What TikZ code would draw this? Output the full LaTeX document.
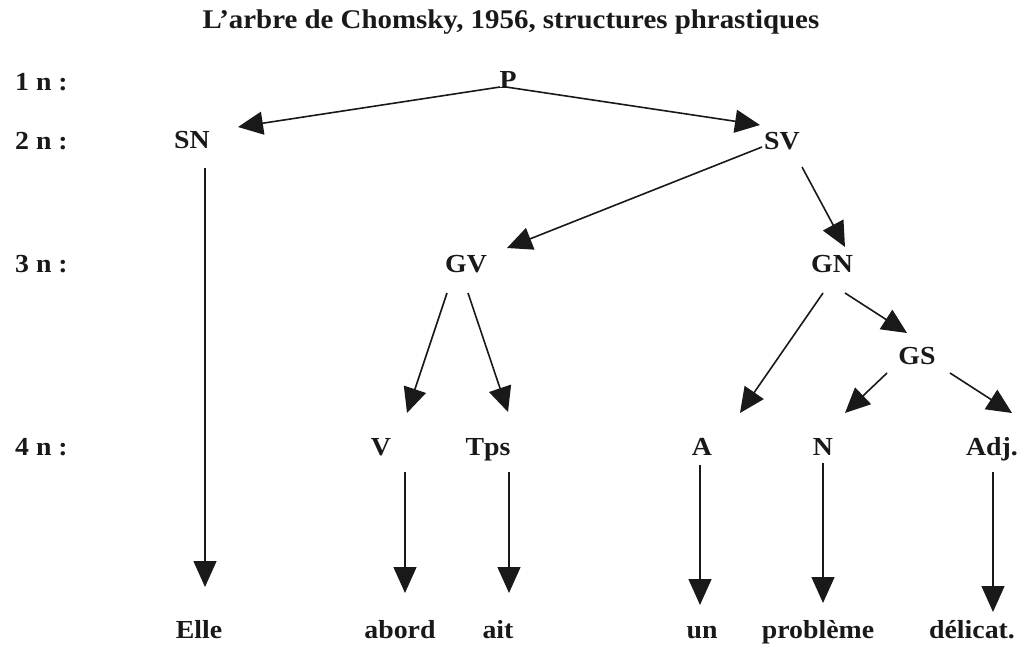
\documentclass[tikz,border=0pt]{standalone}
\usepackage{fontspec}
\setmainfont{Liberation Serif}[FakeStretch=1.07]
\usetikzlibrary{arrows.meta}
\tikzset{
  lab/.style={font=\fontsize{26}{30}\selectfont\bfseries, inner sep=0pt, anchor=base, text=black!90},
  lvl/.style={lab, anchor=base west},
  titlelab/.style={font=\fontsize{27}{32}\selectfont\bfseries, inner sep=0pt, anchor=base, text=black!90},
  arr/.style={line width=1.6pt, draw=black!90, -{Triangle[length=25pt,width=23pt]}},
  varr/.style={line width=1.3pt, draw=black!90, -{Triangle[length=26pt,width=23pt]}}
}
\begin{document}
\begin{tikzpicture}[x=1pt,y=-1pt]
\useasboundingbox (0,0) rectangle (1021,645);
% title
\node[titlelab] (title) at (511,28) {L’arbre de Chomsky, 1956, structures phrastiques};
% level labels
\node[lvl] (l1) at (15,90) {1 n :};
\node[lvl] (l2) at (15,149) {2 n :};
\node[lvl] (l3) at (15,272) {3 n :};
\node[lvl] (l4) at (15,455) {4 n :};
% tree nodes
\node[lab] (P) at (508,88) {P};
\node[lab] (SN) at (192,148) {SN};
\node[lab] (SV) at (782,149) {SV};
\node[lab] (GV) at (466,272) {GV};
\node[lab] (GN) at (832,272) {GN};
\node[lab] (GS) at (917,364) {GS};
\node[lab] (V) at (381,455) {V};
\node[lab] (Tps) at (488,455) {Tps};
\node[lab] (A) at (702,455) {A};
\node[lab] (N) at (823,455) {N};
\node[lab] (Adj) at (992,455) {Adj.};
% words
\node[lab] (Elle) at (199,638) {Elle};
\node[lab] (abord) at (400,638) {abord};
\node[lab] (ait) at (498,638) {ait};
\node[lab] (un) at (702,638) {un};
\node[lab] (probleme) at (818,638) {problème};
\node[lab] (delicat) at (972,638) {délicat.};
% arrows
\draw[arr] ([shift={(-8,-1)}]P.base) -- ([shift={(46,-21)}]SN.base);
\draw[arr] ([shift={(-2,-1)}]P.base) -- ([shift={(-22,-24)}]SV.base);
\draw[arr] ([shift={(-20,-2)}]SV.base) -- ([shift={(41,-24)}]GV.base);
\draw[arr] ([shift={(20,18)}]SV.base) -- ([shift={(13,-25)}]GN.base);
\draw[arr] ([shift={(-19,21)}]GV.base) -- ([shift={(26,-42)}]V.base);
\draw[arr] ([shift={(2,21)}]GV.base) -- ([shift={(20,-43)}]Tps.base);
\draw[arr] ([shift={(-9,21)}]GN.base) -- ([shift={(38,-42)}]A.base);
\draw[arr] ([shift={(13,21)}]GN.base) -- ([shift={(-10,-31)}]GS.base);
\draw[arr] ([shift={(-30,9)}]GS.base) -- ([shift={(22,-42)}]N.base);
\draw[arr] ([shift={(33,9)}]GS.base) -- ([shift={(20,-42)}]Adj.base);
% vertical arrows
\draw[varr] ([shift={(13,20)}]SN.base) -- ([shift={(6,-51)}]Elle.base);
\draw[varr] ([shift={(24,17)}]V.base) -- ([shift={(5,-45)}]abord.base);
\draw[varr] ([shift={(21,17)}]Tps.base) -- ([shift={(11,-45)}]ait.base);
\draw[varr] ([shift={(-2,10)}]A.base) -- ([shift={(-2,-33)}]un.base);
\draw[varr] ([shift={(0,8)}]N.base) -- ([shift={(5,-35)}]probleme.base);
\draw[varr] ([shift={(1,17)}]Adj.base) -- ([shift={(21,-26)}]delicat.base);
\end{tikzpicture}
\end{document}
